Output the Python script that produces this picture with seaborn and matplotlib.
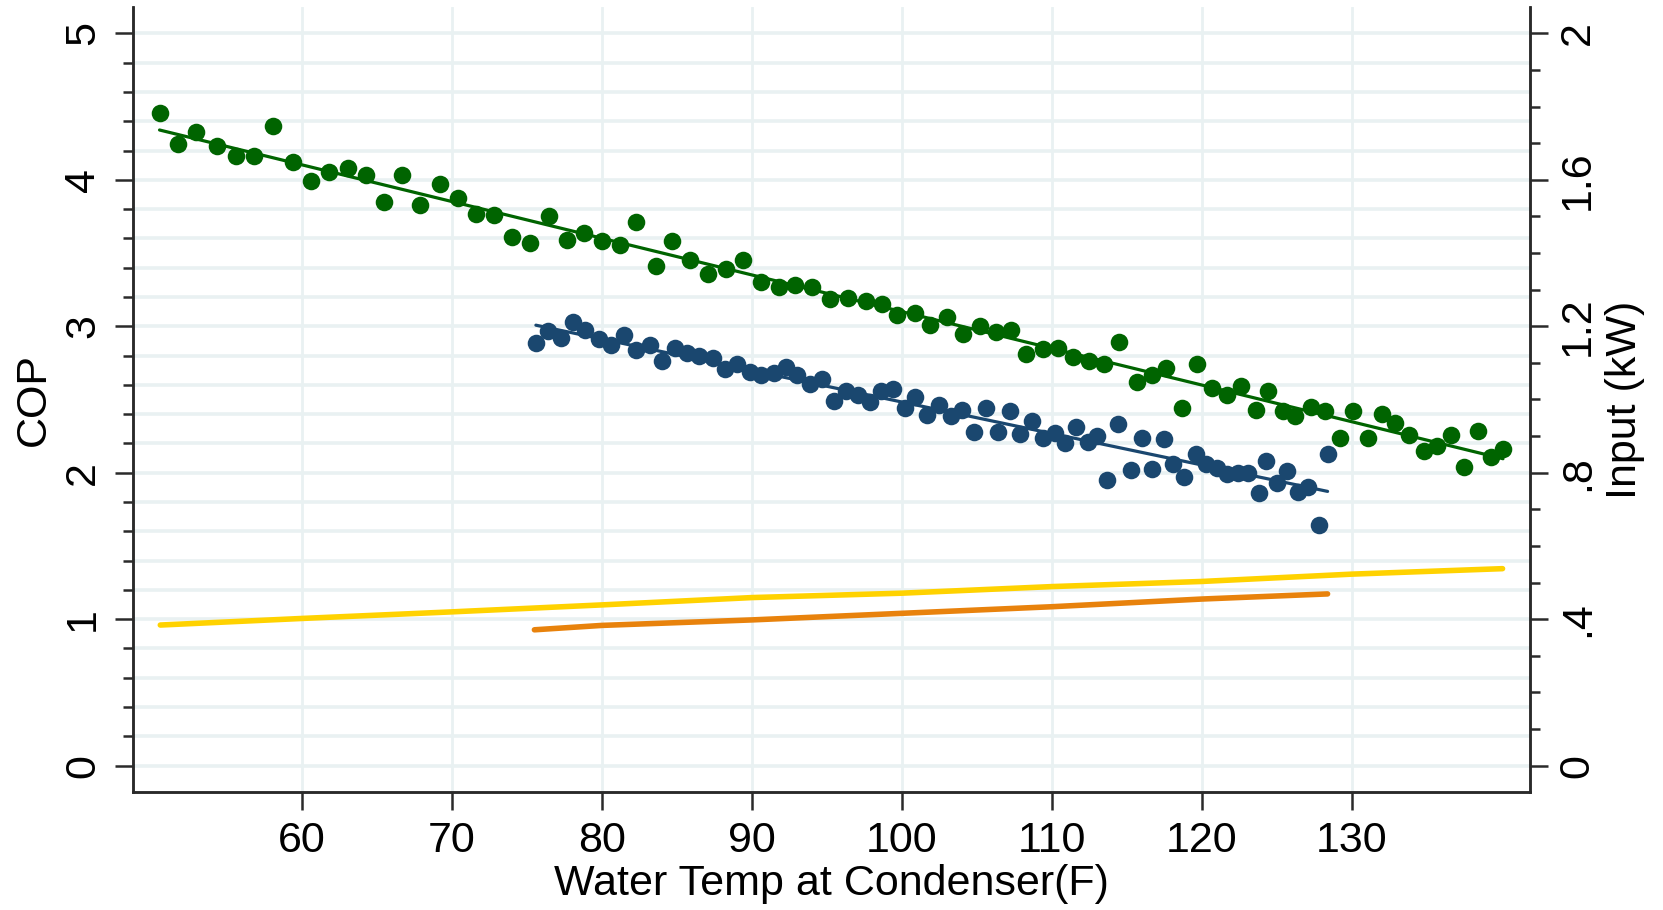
import numpy as np
import pandas as pd
import matplotlib
matplotlib.use("Agg")
import matplotlib.pyplot as plt
from matplotlib import font_manager
import seaborn as sns

# ---------------- data ----------------
green_temp = [50.5, 51.7, 52.9, 54.3, 55.6, 56.8, 58.1, 59.4, 60.6, 61.8, 63.1, 64.3, 65.5, 66.7,
              67.9, 69.2, 70.4, 71.6, 72.8, 74.0, 75.2, 76.5, 77.7, 78.8, 80.0, 81.2, 82.3, 83.6,
              84.7, 85.9, 87.1, 88.3, 89.4, 90.6, 91.8, 92.9, 94.0, 95.2, 96.4, 97.6, 98.7, 99.7,
              100.9, 101.9, 103.0, 104.1, 105.2, 106.3, 107.3, 108.3, 109.4, 110.4, 111.4, 112.5,
              113.5, 114.5, 115.7, 116.7, 117.6, 118.7, 119.7, 120.7, 121.7, 122.6, 123.6, 124.4,
              125.4, 126.2, 127.3, 128.2, 129.2, 130.1, 131.1, 132.0, 132.9, 133.8, 134.8, 135.7,
              136.6, 137.5, 138.4, 139.3, 140.1]
green_cop = [4.456, 4.245, 4.325, 4.23, 4.16, 4.165, 4.37, 4.12, 3.99, 4.05, 4.08, 4.035, 3.85,
             4.035, 3.83, 3.97, 3.875, 3.77, 3.76, 3.61, 3.57, 3.75, 3.59, 3.64, 3.58, 3.555, 3.715,
             3.41, 3.58, 3.455, 3.36, 3.39, 3.45, 3.30, 3.27, 3.28, 3.265, 3.185, 3.19, 3.17, 3.15,
             3.08, 3.09, 3.01, 3.06, 2.95, 3.00, 2.96, 2.975, 2.81, 2.845, 2.85, 2.79, 2.765, 2.74,
             2.89, 2.62, 2.67, 2.715, 2.445, 2.745, 2.58, 2.53, 2.59, 2.43, 2.56, 2.42, 2.39, 2.45,
             2.42, 2.24, 2.42, 2.235, 2.40, 2.34, 2.255, 2.15, 2.18, 2.255, 2.04, 2.285, 2.11, 2.16]

blue_temp = [75.6, 76.4, 77.3, 78.1, 78.9, 79.8, 80.6, 81.5, 82.3, 83.2, 84.0, 84.9, 85.7, 86.5,
             87.4, 88.2, 89.0, 89.9, 90.6, 91.5, 92.3, 93.0, 93.9, 94.7, 95.5, 96.3, 97.1, 97.9,
             98.6, 99.4, 100.2, 100.9, 101.7, 102.5, 103.3, 104.0, 104.8, 105.6, 106.4, 107.2,
             107.9, 108.7, 109.4, 110.2, 110.9, 111.6, 112.4, 113.0, 113.7, 114.4, 115.3, 116.0,
             116.7, 117.5, 118.1, 118.8, 119.6, 120.3, 121.0, 121.7, 122.4, 123.1, 123.8, 124.3,
             125.0, 125.7, 126.4, 127.1, 127.8, 128.4]
blue_cop = [2.888, 2.97, 2.92, 3.03, 2.975, 2.91, 2.875, 2.94, 2.84, 2.875, 2.765, 2.85, 2.815,
            2.795, 2.78, 2.71, 2.745, 2.69, 2.665, 2.68, 2.72, 2.67, 2.605, 2.64, 2.49, 2.555,
            2.53, 2.48, 2.56, 2.57, 2.44, 2.52, 2.395, 2.46, 2.39, 2.43, 2.28, 2.44, 2.28, 2.42,
            2.265, 2.35, 2.24, 2.27, 2.20, 2.31, 2.21, 2.25, 1.95, 2.33, 2.02, 2.235, 2.025, 2.23,
            2.06, 1.97, 2.125, 2.06, 2.03, 1.99, 2.00, 2.00, 1.86, 2.08, 1.93, 2.01, 1.87, 1.90,
            1.64, 2.125]

yellow_temp = [50.55, 60, 70, 80, 90, 100, 110, 120, 130, 140.07]
yellow_kw = [0.384, 0.402, 0.420, 0.439, 0.459, 0.471, 0.489, 0.503, 0.523, 0.538]

orange_temp = [75.5, 80, 90, 100, 110, 120, 128.4]
orange_kw = [0.371, 0.383, 0.398, 0.416, 0.434, 0.455, 0.469]

x_ticks = [60, 70, 80, 90, 100, 110, 120, 130]
cop_ticks = [0, 1, 2, 3, 4, 5]
kw_ticks = [0, 0.4, 0.8, 1.2, 1.6, 2.0]
kw_tick_labels = ["0", ".4", ".8", "1.2", "1.6", "2"]

# ---------------- style ----------------
sns.set_style("white")
names = {f.name for f in font_manager.fontManager.ttflist}
fam = "Liberation Sans" if "Liberation Sans" in names else "DejaVu Sans"
plt.rcParams["font.family"] = [fam, "DejaVu Sans"]
plt.rcParams["text.color"] = "black"
plt.rcParams["axes.labelcolor"] = "black"
plt.rcParams["xtick.color"] = "black"
plt.rcParams["ytick.color"] = "black"

GREEN = "#006400"
BLUE = "#1a476f"
YELLOW = "#ffd200"
ORANGE = "#e8820c"
GRID = "#e9f1f2"
SPINE = "#2a2a2a"
TXT = 31

fig = plt.figure(figsize=(16.63, 9.10), dpi=100)
W, H = 1663, 910
L, R, T, B = 133, 1530, 7, 792
ax = fig.add_axes([L / W, (H - B) / H, (R - L) / W, (B - T) / H])
ax2 = ax.twinx()

ylo, yhi = -0.18, 5.18
ax.set_xlim(48.73, 141.9)
ax.set_ylim(ylo, yhi)
ax2.set_ylim(ylo * 0.4, yhi * 0.4)

# grid
for v in np.arange(0, 5.01, 0.2):
    ax.axhline(v, color=GRID, lw=2.6, zorder=0)
for v in x_ticks:
    ax.axvline(v, color=GRID, lw=2.0, zorder=0)

gdf = pd.DataFrame({"temp": green_temp, "cop": green_cop})
bdf = pd.DataFrame({"temp": blue_temp, "cop": blue_cop})

sns.regplot(data=gdf, x="temp", y="cop", ax=ax, ci=None, color=GREEN,
            scatter_kws=dict(s=160, linewidths=0, alpha=1, zorder=3),
            line_kws=dict(lw=2.3, zorder=4))
sns.regplot(data=bdf, x="temp", y="cop", ax=ax, ci=None, color=BLUE,
            scatter_kws=dict(s=160, linewidths=0, alpha=1, zorder=3),
            line_kws=dict(lw=2.3, zorder=4))

ydf = pd.DataFrame({"temp": yellow_temp, "kw": yellow_kw})
odf = pd.DataFrame({"temp": orange_temp, "kw": orange_kw})
sns.lineplot(data=ydf, x="temp", y="kw", ax=ax2, color=YELLOW, lw=4.0)
sns.lineplot(data=odf, x="temp", y="kw", ax=ax2, color=ORANGE, lw=4.0)

ax2.set_xlim(48.73, 141.9)

# axes styling
for a in (ax, ax2):
    for s in a.spines.values():
        s.set_linewidth(1.8)
        s.set_color(SPINE)
    a.spines["top"].set_visible(False)
    a.grid(False)

ax.set_xticks(x_ticks)
ax.set_xticklabels([str(v) for v in x_ticks], fontsize=TXT)
ax.set_yticks(cop_ticks)
ax.set_yticklabels([str(v) for v in cop_ticks], fontsize=TXT, rotation=90, va="center")
ax.set_yticks(np.arange(0, 5.01, 0.2), minor=True)
ax.tick_params(axis="x", which="major", length=13, width=1.8, pad=8, color=SPINE, direction="out",
               bottom=True)
ax.tick_params(axis="y", which="major", length=13, width=1.8, pad=8.5, color=SPINE, direction="out",
               left=True)
ax.tick_params(axis="y", which="minor", length=7.5, width=1.8, color=SPINE, direction="out",
               left=True)

ax2.set_yticks(kw_ticks)
ax2.set_yticklabels(kw_tick_labels, fontsize=TXT, rotation=90, va="center")
ax2.set_yticks(np.arange(0, 2.001, 0.1), minor=True)
ax2.tick_params(axis="y", which="major", length=13, width=1.8, pad=7, color=SPINE, direction="out",
                right=True)
ax2.tick_params(axis="y", which="minor", length=7.5, width=1.8, color=SPINE, direction="out",
                right=True)

ax.set_xlabel("Water Temp at Condenser(F)", fontsize=TXT, labelpad=2)
ax.set_ylabel("COP", fontsize=TXT, labelpad=7)
ax2.set_ylabel("Input (kW)", fontsize=TXT, labelpad=5)

fig.savefig("out.png", dpi=100, facecolor="white")
